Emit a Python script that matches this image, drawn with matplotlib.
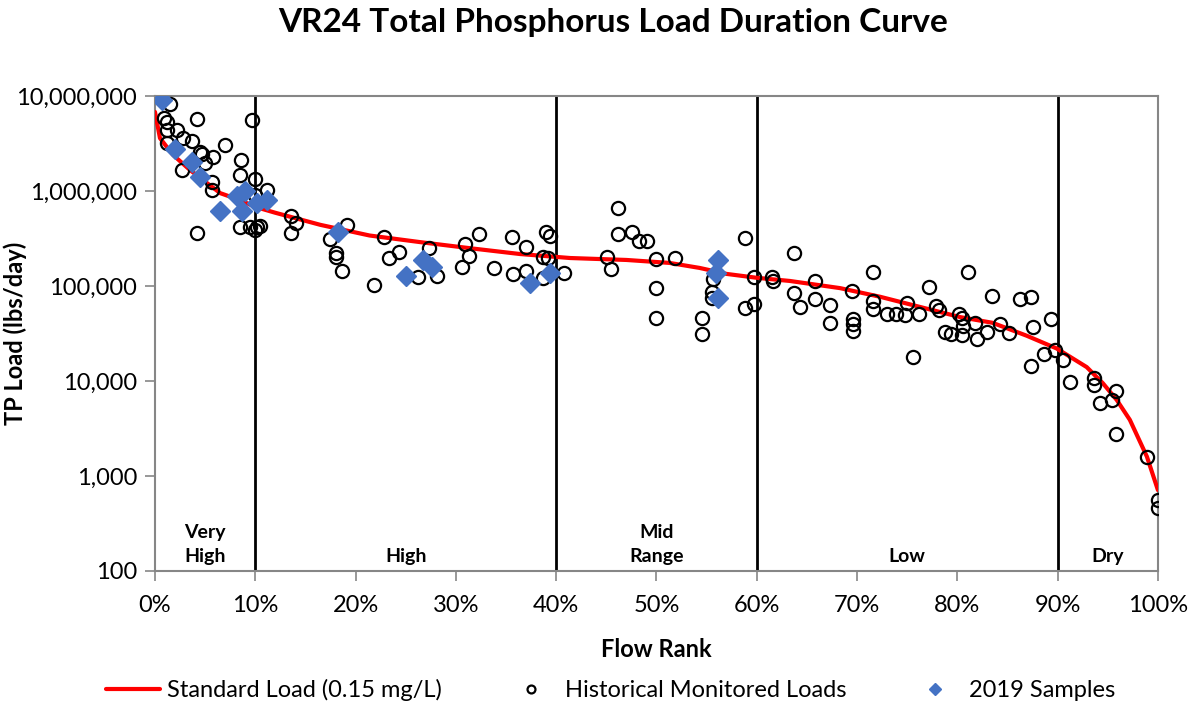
import numpy as np
import matplotlib
matplotlib.use('Agg')
import matplotlib.pyplot as plt
from matplotlib.ticker import FuncFormatter, PercentFormatter, FixedLocator, NullLocator
import matplotlib.transforms as mtransforms

plt.rcParams['font.family'] = ['Lato', 'DejaVu Sans']

# standard load curve (0.15 mg/L) vs flow rank (%)
curve_rank = [0, 0.5, 1.8, 3.5, 5.2, 6.5, 8.5, 10, 12, 16.5, 21.4, 26.4, 31.4, 36.4,
              41.4, 47, 51.3, 54.3, 57, 60, 63.3, 68.3, 72.3, 76.6, 80.3, 83.5,
              86.9, 89.9, 92.9, 94.5, 95.9, 97.2, 98.9, 100]
curve_load = [6.8e6, 3.6e6, 2.4e6, 1.66e6, 1.21e6, 9.5e5, 8.0e5, 6.8e5, 5.9e5, 4.4e5,
              3.4e5, 2.9e5, 2.5e5, 2.17e5, 1.97e5, 1.88e5, 1.75e5, 1.55e5, 1.34e5,
              1.22e5, 1.13e5, 9.5e4, 7.7e4, 5.9e4, 4.7e4, 4.1e4, 3.0e4, 2.2e4,
              1.4e4, 9.5e3, 6.3e3, 3.9e3, 1.6e3, 710]

# historical monitored loads
hist_rank = [1.5, 0.9, 1.2, 4.2, 1.2, 2.2, 2.8, 3.7, 1.2, 7.0, 4.5, 4.7, 5.0, 5.8,
             2.7, 8.6, 8.5, 5.7, 5.7, 10.0, 11.2, 9.7, 10.0, 8.5, 9.5, 10.2, 10.5,
             4.2, 10.0, 13.6, 14.1, 13.6, 19.1, 17.5, 18.0, 18.0, 18.6, 21.8, 22.8,
             23.3, 24.3, 26.2, 27.3, 28.1, 30.9, 31.3, 32.3, 30.6, 33.8, 35.6, 37.0,
             35.7, 37.0, 39.0, 39.4, 38.7, 39.2, 38.7, 40.8, 46.2, 46.2, 47.6, 48.3,
             49.1, 45.1, 45.5, 50.0, 51.8, 50.0, 50.0, 54.5, 54.5, 55.6, 55.5, 55.5,
             58.8, 58.8, 59.7, 59.7, 61.5, 61.6, 63.7, 63.7, 64.3, 65.8, 65.8, 67.3,
             67.3, 69.5, 69.6, 69.6, 69.6, 71.6, 71.6, 71.6, 73.0, 73.9, 74.8, 75.0,
             75.6, 76.2, 77.2, 77.9, 78.2, 78.8, 79.4, 80.2, 80.5, 80.6, 80.5, 81.1,
             81.8, 82.0, 83.0, 83.5, 84.3, 85.2, 86.2, 87.3, 87.5, 87.3, 88.6, 89.3,
             89.7, 90.5, 91.2, 93.6, 93.6, 94.2, 95.4, 95.8, 95.8, 98.9, 100, 100]
hist_load = [8.2e6, 5.9e6, 5.3e6, 5.7e6, 4.4e6, 4.4e6, 3.6e6, 3.4e6, 3.2e6, 3.05e6,
             2.6e6, 2.45e6, 1.97e6, 2.3e6, 1.66e6, 2.1e6, 1.47e6, 1.24e6, 1.02e6,
             1.34e6, 1.02e6, 5.6e6, 9.1e5, 4.2e5, 4.2e5, 4.2e5, 4.3e5, 3.6e5, 3.9e5,
             5.5e5, 4.6e5, 3.6e5, 4.4e5, 3.1e5, 2.2e5, 2.0e5, 1.44e5, 1.03e5, 3.3e5,
             1.97e5, 2.3e5, 1.24e5, 2.5e5, 1.27e5, 2.8e5, 2.07e5, 3.5e5, 1.58e5,
             1.55e5, 3.3e5, 2.57e5, 1.34e5, 1.44e5, 3.7e5, 3.4e5, 2.0e5, 1.97e5,
             1.21e5, 1.37e5, 6.6e5, 3.5e5, 3.7e5, 3.0e5, 3.0e5, 2.0e5, 1.5e5, 1.92e5,
             1.97e5, 9.5e4, 4.6e4, 4.6e4, 3.1e4, 1.19e5, 8.6e4, 7.5e4, 3.2e5, 5.9e4,
             1.24e5, 6.5e4, 1.24e5, 1.13e5, 2.2e5, 8.4e4, 6.0e4, 1.13e5, 7.3e4, 6.3e4,
             4.1e4, 8.9e4, 4.5e4, 4.0e4, 3.4e4, 1.4e5, 7.0e4, 5.7e4, 5.1e4, 5.1e4,
             5.0e4, 6.6e4, 1.8e4, 5.1e4, 9.8e4, 6.2e4, 5.6e4, 3.3e4, 3.1e4, 5.1e4,
             4.6e4, 3.8e4, 3.05e4, 1.4e5, 4.1e4, 2.8e4, 3.3e4, 7.9e4, 4.0e4, 3.2e4,
             7.3e4, 7.7e4, 3.7e4, 1.44e4, 1.92e4, 4.5e4, 2.1e4, 1.66e4, 9.8e3, 1.08e4,
             9.1e3, 5.9e3, 6.3e3, 7.9e3, 2.8e3, 1.58e3, 560, 460]

# 2019 samples
s2019_rank = [0.7, 2.0, 3.7, 4.5, 6.5, 8.2, 9.0, 8.7, 10.2, 11.2, 18.2, 25.0, 26.7,
              27.6, 37.4, 39.4, 56.1, 55.9, 56.1]
s2019_load = [9.1e6, 2.8e6, 2.0e6, 1.4e6, 6.2e5, 8.8e5, 1.0e6, 6.2e5, 7.5e5, 8.0e5,
              3.7e5, 1.27e5, 1.88e5, 1.6e5, 1.08e5, 1.37e5, 1.88e5, 1.37e5, 7.5e4]

zone_edges = [10, 40, 60, 90]
zone_names = ['Very\nHigh', 'High', 'Mid\nRange', 'Low', 'Dry']
zone_centers = [5, 25, 50, 75, 95]

fig = plt.figure(figsize=(11.93, 7.07), dpi=100)
ax = fig.add_axes([0.1299, 0.1924, 0.8407, 0.6718])

ax.plot(curve_rank, curve_load, color='#FF0000', lw=3, solid_capstyle='round',
        label='Standard Load (0.15 mg/L)', zorder=3)
ax.plot(hist_rank, hist_load, 'o', ms=9.5, mfc='none', mec='black', mew=1.6,
        label='Historical Monitored Loads', zorder=4)
ax.plot(s2019_rank, s2019_load, 'D', ms=10.5, color='#4472C4', mec='#4472C4',
        label='2019 Samples', zorder=5)

for x in zone_edges:
    ax.axvline(x, color='black', lw=2, zorder=2)

trans = mtransforms.blended_transform_factory(ax.transData, ax.transAxes)
for name, xc in zip(zone_names, zone_centers):
    ax.text(xc, 0.012, name, transform=trans, ha='center', va='bottom',
            fontsize=14, fontweight='bold', linespacing=1.5)

ax.set_yscale('log')
ax.set_ylim(100, 1e7)
ax.set_xlim(0, 100)
ax.yaxis.set_major_locator(FixedLocator([1e2, 1e3, 1e4, 1e5, 1e6, 1e7]))
ax.yaxis.set_minor_locator(NullLocator())
ax.yaxis.set_major_formatter(FuncFormatter(lambda v, p: f'{v:,.0f}'))
ax.set_xticks(np.arange(0, 101, 10))
ax.xaxis.set_major_formatter(PercentFormatter(xmax=100, decimals=0))

for s in ax.spines.values():
    s.set_color('#868686')
    s.set_linewidth(1.5)
ax.tick_params(axis='both', direction='out', length=7, width=1.2, color='#868686',
               labelsize=17)
ax.tick_params(axis='y', pad=6)
ax.tick_params(axis='x', pad=10)

ax.set_xlabel('Flow Rank', fontsize=17, fontweight='bold', labelpad=16)
ax.set_ylabel('TP Load (lbs/day)', fontsize=17, fontweight='bold')
ax.yaxis.set_label_coords(-0.128, 0.5)

fig.text(0.514, 0.968, 'VR24 Total Phosphorus Load Duration Curve', ha='center',
         va='center', fontsize=24, fontweight='bold')

leg = fig.legend(loc='center', bbox_to_anchor=(0.512, 0.024), ncol=3, frameon=False,
                 fontsize=17, markerscale=0.6, handlelength=2.3, handletextpad=0.3,
                 columnspacing=2.6)

fig.savefig('out.png', dpi=100)
